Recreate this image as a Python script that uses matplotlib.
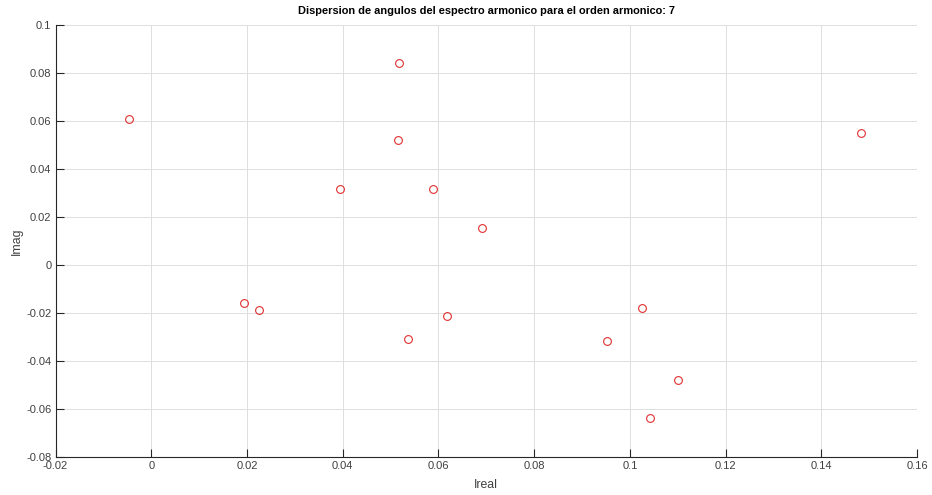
import matplotlib
matplotlib.use("Agg")
import matplotlib.pyplot as plt

ireal = [-0.0047, 0.0517, 0.0515, 0.0394, 0.0589, 0.0691, 0.1483,
         0.0193, 0.0225, 0.0537, 0.0619, 0.1026, 0.0953, 0.1101, 0.1042]
imag = [0.0608, 0.0842, 0.0521, 0.0317, 0.0319, 0.0154, 0.0553,
        -0.0157, -0.0188, -0.0307, -0.0211, -0.0179, -0.0317, -0.0479, -0.0636]

xticks = [-0.02, 0, 0.02, 0.04, 0.06, 0.08, 0.1, 0.12, 0.14, 0.16]
yticks = [-0.08, -0.06, -0.04, -0.02, 0, 0.02, 0.04, 0.06, 0.08, 0.1]
xticklabels = ["-0.02", "0", "0.02", "0.04", "0.06", "0.08", "0.1", "0.12", "0.14", "0.16"]
yticklabels = ["-0.08", "-0.06", "-0.04", "-0.02", "0", "0.02", "0.04", "0.06", "0.08", "0.1"]

plt.rcParams['font.family'] = ['Liberation Sans', 'DejaVu Sans']

W, H = 932, 495
fig = plt.figure(figsize=(W / 100, H / 100), dpi=100)
left, right, top, bottom = 55.5, 917, 25.3, 457
ax = fig.add_axes([left / W, 1 - bottom / H, (right - left) / W, (bottom - top) / H])

ax.plot(ireal, imag, linestyle='none', marker='o', markersize=5.6,
        markerfacecolor='none', markeredgecolor='#e03030', markeredgewidth=0.8)

ax.set_xlim(-0.02, 0.16)
ax.set_ylim(-0.08, 0.1)
ax.set_xticks(xticks)
ax.set_xticklabels(xticklabels)
ax.set_yticks(yticks)
ax.set_yticklabels(yticklabels)

axcol = '#262626'
for s in ['top', 'right']:
    ax.spines[s].set_visible(False)
for s in ['left', 'bottom']:
    ax.spines[s].set_color(axcol)
    ax.spines[s].set_linewidth(0.8)
ax.tick_params(direction='in', length=6, width=0.8, color=axcol,
               labelcolor='#404040', labelsize=8, pad=3)
ax.grid(True, color='#dedede', linewidth=0.7)
ax.set_axisbelow(True)

ax.set_title('Dispersion de angulos del espectro armonico para el orden armonico: 7',
             fontsize=7.9, fontweight='bold', color='black', pad=8)
ax.set_xlabel('Ireal', fontsize=8.8, color='#404040', labelpad=5.5)
ax.set_ylabel('Imag', fontsize=8.8, color='#404040', labelpad=2.5)

fig.savefig('out.png', dpi=100)
